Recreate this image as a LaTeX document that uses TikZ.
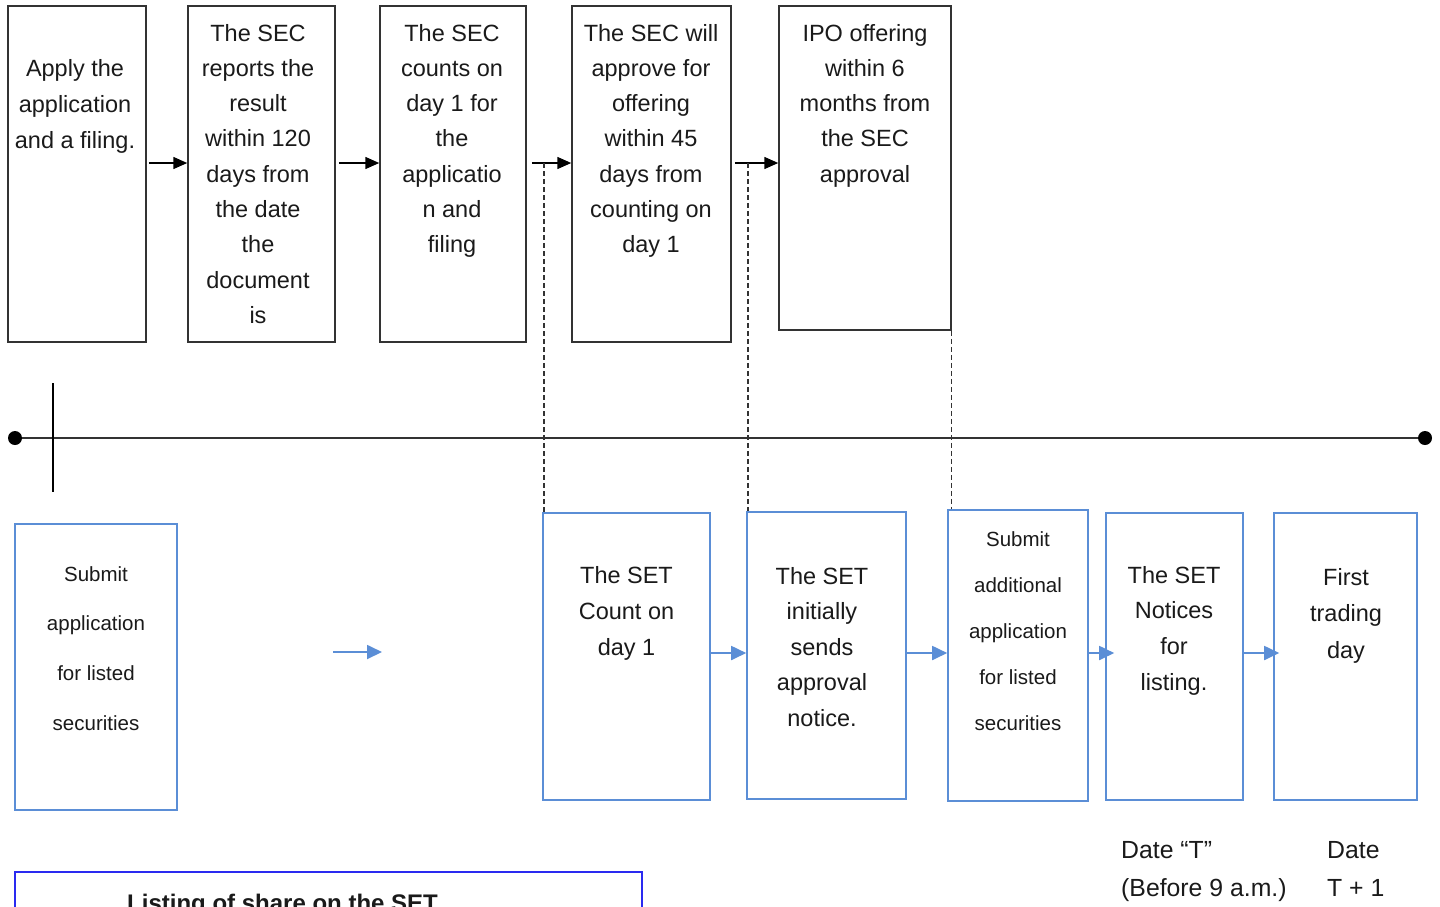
\documentclass[tikz,border=0pt]{standalone}
\usepackage{fontspec}
\setmainfont{Liberation Sans}
\usetikzlibrary{arrows.meta}
\definecolor{boxblue}{HTML}{5B8ED6}
\definecolor{frameblue}{HTML}{2A2AF0}
\definecolor{lineg}{HTML}{333333}
\definecolor{txtc}{HTML}{1A1A1A}
\newcommand{\ptxt}[2]{\parbox[t]{#1}{\centering #2}}
\begin{document}
\begin{tikzpicture}[x=1pt,y=-1pt,
  topbox/.style={draw=lineg, line width=1.5pt, inner sep=0pt, rectangle},
  setbox/.style={draw=boxblue, line width=1.6pt, inner sep=0pt, rectangle},
  toptxt/.style={inner sep=0pt, anchor=base, text=txtc, font=\fontsize{23.5}{35.3}\selectfont},
  blk/.style={draw=black, line width=1.5pt, -{Triangle[length=14pt,width=12pt]}},
  bluearr/.style={draw=boxblue, line width=1.8pt, -{Triangle[length=15pt,width=14pt]}},
  dsh/.style={draw=lineg, line width=1.3pt, dash pattern=on 5pt off 3pt},
  dot/.style={circle, fill=black, inner sep=0pt, minimum size=14pt},
]
\clip (0,0) rectangle (1440,906);
\fill[white] (0,0) rectangle (1440,906);

% top boxes
\node[topbox, minimum width=138pt, minimum height=336pt] (b1) at (77,174) {};
\node[topbox, minimum width=147pt, minimum height=336pt] (b2) at (261.5,174) {};
\node[topbox, minimum width=146pt, minimum height=336pt] (b3) at (453,174) {};
\node[topbox, minimum width=159pt, minimum height=336pt] (b4) at (651.5,174) {};
\node[topbox, minimum width=172pt, minimum height=324pt] (b5) at (865,168) {};

\node[toptxt, font=\fontsize{23.5}{36}\selectfont] (t1) at (75,76) {\ptxt{138pt}{Apply the\\application\\and a filing.}};
\node[toptxt] (t2) at (258,41) {\ptxt{147pt}{The SEC\\reports the\\result\\within 120\\days from\\the date\\the\\document\\is}};
\node[toptxt] (t3) at (452,41) {\ptxt{146pt}{The SEC\\counts on\\day 1 for\\the\\applicatio\\n and\\filing}};
\node[toptxt] (t4) at (651,41) {\ptxt{159pt}{The SEC will\\approve for\\offering\\within 45\\days from\\counting on\\day 1}};
\node[toptxt] (t5) at (865,41) {\ptxt{172pt}{IPO offering\\within 6\\months from\\the SEC\\approval}};

% black arrows
\draw[blk, shorten <=2pt] (b1.east |- 0,163) -- (b2.west |- 0,163);
\draw[blk, shorten <=3pt] (b2.east |- 0,163) -- (b3.west |- 0,163);
\draw[blk, shorten <=5pt] (b3.east |- 0,163) -- (b4.west |- 0,163);
\draw[blk, shorten <=3pt] (b4.east |- 0,163) -- (b5.west |- 0,163);

% timeline
\node[dot] (tl) at (15,438) {};
\node[dot] (tr) at (1425,438) {};
\draw[draw=lineg, line width=2.6pt] (tl) -- (tr);
\coordinate (k1) at (53,383);
\coordinate (k2) at (53,492);
\draw[black, line width=1.4pt] (k1) -- (k2);

% SET boxes
\node[setbox, minimum width=162pt, minimum height=286pt] (s1) at (96,667) {};
\node[setbox, minimum width=167pt, minimum height=287pt] (s2) at (626.5,656.5) {};
\node[setbox, minimum width=159pt, minimum height=287pt] (s3) at (826.5,655.5) {};
\node[setbox, minimum width=140pt, minimum height=291pt] (s4) at (1018,655.5) {};
\node[setbox, minimum width=137pt, minimum height=287pt] (s5) at (1174.5,656.5) {};
\node[setbox, minimum width=143pt, minimum height=287pt] (s6) at (1345.5,656.5) {};

\node[toptxt, font=\fontsize{20.5}{49.7}\selectfont] (u1) at (96,581) {\ptxt{162pt}{Submit\\application\\for listed\\securities}};
\node[toptxt, font=\fontsize{23.5}{36}\selectfont] (u2) at (626.5,583) {\ptxt{167pt}{The SET\\Count on\\day 1}};
\node[toptxt, font=\fontsize{23.5}{35.5}\selectfont] (u3) at (822,584) {\ptxt{159pt}{The SET\\initially\\sends\\approval\\notice.}};
\node[toptxt, font=\fontsize{20.5}{46}\selectfont] (u4) at (1018,546) {\ptxt{140pt}{Submit\\additional\\application\\for listed\\securities}};
\node[toptxt, font=\fontsize{23.5}{35.7}\selectfont] (u5) at (1174,583) {\ptxt{137pt}{The SET\\Notices\\for\\listing.}};
\node[toptxt, font=\fontsize{23.5}{36.5}\selectfont] (u6) at (1346,585) {\ptxt{143pt}{First\\trading\\day}};

% blue arrows
\coordinate (ba1) at (333,652);
\coordinate (ba2) at (382,652);
\draw[bluearr] (ba1) -- (ba2);
\draw[bluearr] (s2.east |- 0,653) -- (s3.west |- 0,653);
\draw[bluearr] (s3.east |- 0,653) -- (s4.west |- 0,653);
\draw[bluearr] (s4.east |- 0,653) -- ([xshift=9pt]s5.west |- 0,653);
\draw[bluearr] (s5.east |- 0,653) -- ([xshift=6pt]s6.west |- 0,653);

% dashed links
\coordinate (d1) at (544,163);
\coordinate (d2) at (748,163);
\draw[dsh] (d1) -- (d1 |- s2.north);
\draw[dsh] (d2) -- (d2 |- s3.north);
\draw[dsh] ([xshift=-0.5pt]b5.south east) -- ([xshift=-0.5pt]b5.south east |- s4.north);

% date labels
\node[toptxt, anchor=base west, font=\fontsize{24.8}{38.5}\selectfont] (dt) at (1121,858) {\parbox[t]{200pt}{Date “T”\\(Before 9 a.m.)}};
\node[toptxt, anchor=base west, font=\fontsize{24.8}{38.5}\selectfont] (dt1) at (1327,858) {\parbox[t]{100pt}{Date\\T + 1}};

% listing frame
\node[draw=frameblue, line width=1.5pt, inner sep=0pt, minimum width=627pt, minimum height=88pt] (lst) at (328.5,916) {};
\node[toptxt, anchor=base west, font=\fontsize{24}{28}\selectfont\bfseries] (lt) at (127,911) {Listing of share on the SET};
\end{tikzpicture}
\end{document}
